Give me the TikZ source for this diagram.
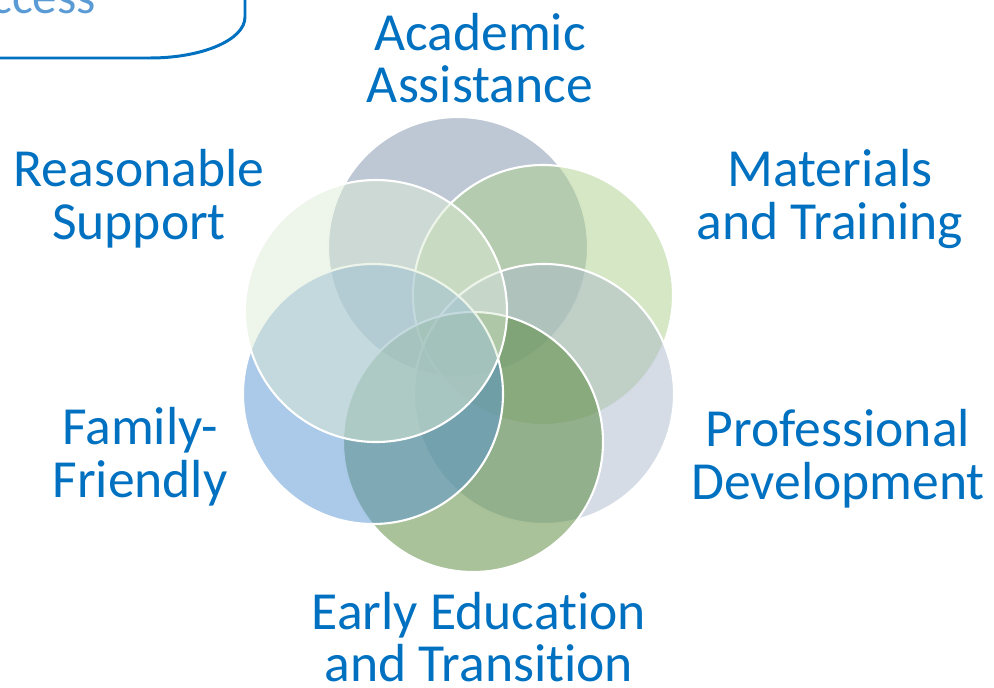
\documentclass[tikz,border=0pt]{standalone}
\usepackage{fontspec}
\setmainfont{Carlito}[Ligatures=NoCommon]
\usepackage{tikz}
\usepackage{xcolor}
\definecolor{titleblue}{RGB}{0,112,192}
\definecolor{boxblue}{RGB}{91,155,213}
\definecolor{academicfill}{RGB}{125,145,171}
\definecolor{materialsfill}{RGB}{171,207,139}
\definecolor{professionalfill}{RGB}{171,185,203}
\definecolor{earlyfill}{RGB}{83,133,53}
\definecolor{familyfill}{RGB}{87,147,209}
\definecolor{reasonablefill}{RGB}{221,235,213}

\begin{document}
\begin{tikzpicture}[x=0.02cm,y=-0.02cm,
    ring/.style={draw=white,line width=1.2pt,fill opacity=0.5},
    venntext/.style={text=titleblue,align=center,font=\fontsize{30.5}{30}\selectfont}]
        \clip (0,0) rectangle (994,687);
        % box cut off at the top left
        \draw[titleblue,line width=1.7pt] (-10,58) -- (150,58) .. controls (202,58) and (245,40) .. (245,17) -- (245,-10);
        \draw (102,13) node[anchor=base east,text=boxblue,font=\fontsize{28}{28}\selectfont] (boxtext) {ccess};
        % the six circles
        \filldraw[ring,fill=academicfill] (458,247) circle (130);
        \filldraw[ring,fill=materialsfill] (543,295) circle (130);
        \filldraw[ring,fill=professionalfill] (544,394) circle (130);
        \filldraw[ring,fill=earlyfill] (473,442) circle (130);
        \filldraw[ring,fill=familyfill] (373,394) circle (130);
        \filldraw[ring,fill=reasonablefill] (376,311) circle (131);
        % labels
        \draw (480,58) node[venntext] (academic) {Academic\\Assistance};
        \draw (830,199) node[venntext] (materials) {Materials\\and Training};
        \draw (838,459) node[venntext] (professional) {Professional\\Development};
        \draw (479,637) node[venntext] (early) {Early Education\\and Transition};
        \draw (140,457) node[venntext] (family) {Family-\\Friendly};
        \draw (139,199) node[venntext] (reasonable) {Reasonable\\Support};
      \end{tikzpicture}
\end{document}
